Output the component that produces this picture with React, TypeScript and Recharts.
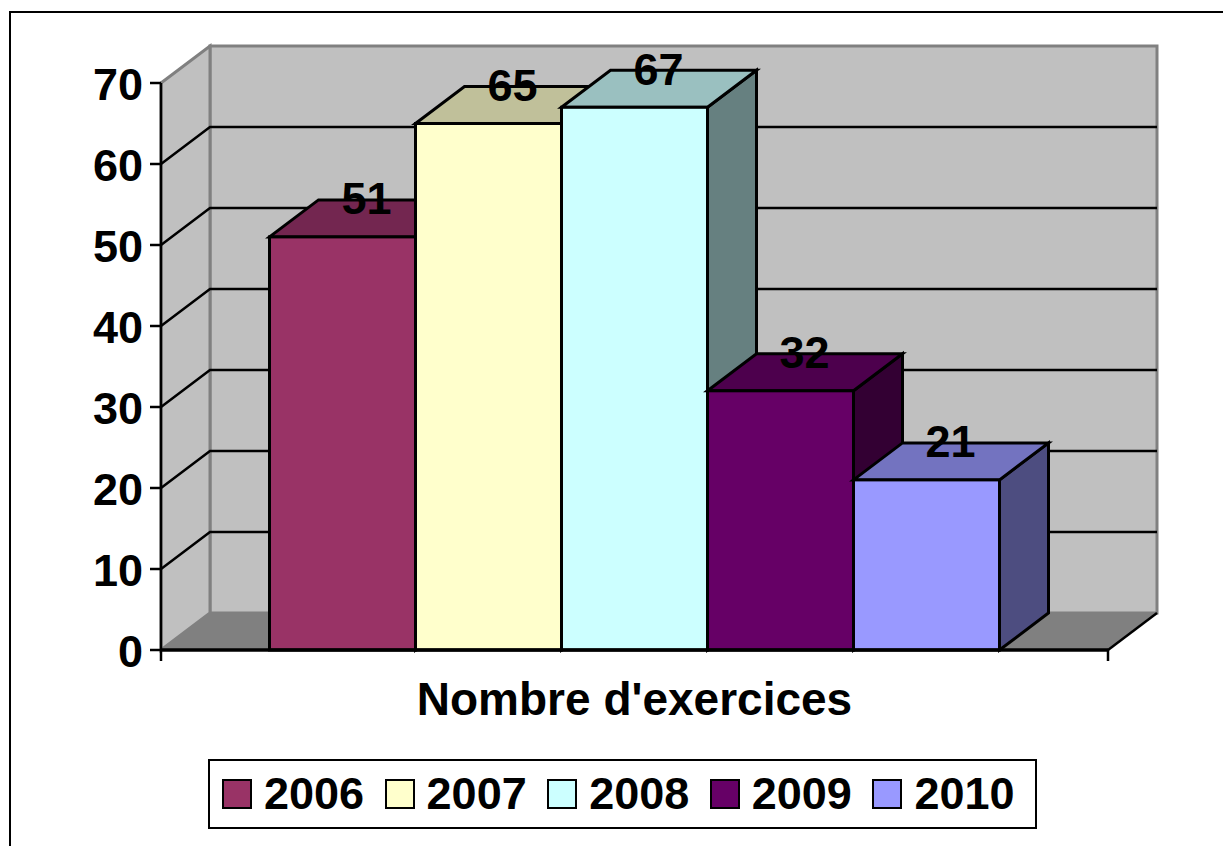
import React from "react";
import { BarChart, Bar, XAxis, YAxis, CartesianGrid, Legend, LabelList } from "recharts";

const categories = ["Nombre d'exercices"];
const seriesNames = ["2006", "2007", "2008", "2009", "2010"];
const seriesValues = [51, 65, 67, 32, 21];
const seriesColors = ["#993366", "#FFFFCC", "#CCFFFF", "#660066", "#9999FF"];
const topColors = ["#732650", "#C0C09A", "#9AC0C0", "#4D004D", "#7373C0"];
const sideColors = ["#4D1A33", "#808066", "#668080", "#330033", "#4D4D80"];
const yTicks = [0, 10, 20, 30, 40, 50, 60, 70];

const row: Record<string, string | number> = { name: categories[0] };
seriesNames.forEach((n, i) => { row[n] = seriesValues[i]; });
const data = [row];

const DX = 49;
const DY = 37;
const FONT = "'Liberation Sans', Arial, sans-serif";
const FS = 45;
const SW = 3;

const Bar3D = (i: number) => (p: any) => {
  const { x, y, width: w, height: h } = p;
  return (
    <g stroke="#000" strokeWidth={SW} strokeLinejoin="miter">
      <polygon fill={sideColors[i]} points={`${x + w},${y} ${x + w + DX},${y - DY} ${x + w + DX},${y + h - DY} ${x + w},${y + h}`} />
      <polygon fill={topColors[i]} points={`${x},${y} ${x + DX},${y - DY} ${x + w + DX},${y - DY} ${x + w},${y}`} />
      <rect x={x} y={y} width={w} height={h} fill={seriesColors[i]} />
    </g>
  );
};

const WallLine = (p: any) => {
  const { x, y, width: w, height: h, index } = p;
  if (index !== 0) return <g key={p.key} />;
  const b = y + h;
  return (
    <g key={p.key}>
      <polygon fill="#C0C0C0" stroke="#808080" strokeWidth={3} points={`${x + DX},${y - DY} ${x + w + DX},${y - DY} ${x + w + DX},${b - DY} ${x + DX},${b - DY}`} />
      <polygon fill="#C0C0C0" stroke="#808080" strokeWidth={3} points={`${x},${y} ${x + DX},${y - DY} ${x + DX},${b - DY} ${x},${b}`} />
      <polygon fill="#808080" stroke="#808080" strokeWidth={1} points={`${x},${b} ${x + DX},${b - DY} ${x + w + DX},${b - DY} ${x + w},${b}`} />
      <line x1={x + w} y1={b} x2={x + w + DX} y2={b - DY} stroke="#000" strokeWidth={2.5} />
      <line x1={x} y1={b} x2={x} y2={b + 11} stroke="#000" strokeWidth={2.5} />
      <line x1={x + w} y1={b} x2={x + w} y2={b + 11} stroke="#000" strokeWidth={2.5} />
    </g>
  );
};

const GridLine = (p: any) => {
  const { x1, x2, y1 } = p;
  const bottom = p.y + p.height;
  if (Math.abs(y1 - p.y) < 1 || Math.abs(y1 - bottom) < 1) return <g key={p.key} />;
  return (
    <polyline key={p.key} fill="none" stroke="#000" strokeWidth={2.5} points={`${x1},${y1} ${x1 + DX},${y1 - DY} ${x2 + DX},${y1 - DY}`} />
  );
};

const CategoryTick = (p: any) => (
  <text x={p.x} y={p.y + 41} textAnchor="middle" dominantBaseline="central" fontFamily={FONT} fontWeight="bold" fontSize={46} fill="#000">
    {p.payload.value}
  </text>
);

const ValueLabel = (p: any) => (
  <text x={p.x + p.width / 2 + 24} y={p.y - 38} textAnchor="middle" dominantBaseline="central" fontFamily={FONT} fontWeight="bold" fontSize={FS} fill="#000">
    {p.value}
  </text>
);

const LegendBox = (p: any) => (
  <div style={{ display: "flex", alignItems: "center", height: "100%", boxSizing: "border-box", border: "2px solid #000", paddingLeft: 12, background: "#fff" }}>
    {p.payload.map((e: any) => (
      <div key={e.value} style={{ display: "flex", alignItems: "center", width: 163 }}>
        <span style={{ display: "block", width: 26, height: 26, border: "2.5px solid #000", background: e.color, marginRight: 12 }} />
        <span style={{ fontFamily: FONT, fontWeight: "bold", fontSize: FS, lineHeight: "50px", color: "#000" }}>{e.value}</span>
      </div>
    ))}
  </div>
);

export default function App() {
  return (
    <div style={{ position: "absolute", left: 0, top: 0, width: 1223, height: 846, overflow: "hidden", background: "#fff" }}>
      <div style={{ position: "absolute", left: 9, top: 11, width: 1300, height: 1000, borderLeft: "2px solid #000", borderTop: "2px solid #000" }} />
      <div style={{ position: "absolute", left: 0, top: 0 }}>
        <BarChart
          width={1223}
          height={846}
          data={data}
          margin={{ top: 83, right: 115, bottom: 0, left: 0 }}
          barCategoryGap={108.5}
          barGap={0}
          style={{ overflow: "visible" }}
        >
          <CartesianGrid vertical={false} horizontal={WallLine} />
          <CartesianGrid vertical={false} horizontal={GridLine} />
          <XAxis dataKey="name" height={126} tickLine={false} tick={CategoryTick} axisLine={{ stroke: "#000", strokeWidth: 3.5 }} interval={0} />
          <YAxis
            width={161}
            domain={[0, 70]}
            ticks={yTicks}
            interval={0}
            tickSize={11}
            tickMargin={7}
            tickLine={{ stroke: "#000", strokeWidth: 2.5 }}
            axisLine={{ stroke: "#000", strokeWidth: 2.5 }}
            tick={{ fontFamily: FONT, fontWeight: "bold", fontSize: FS, fill: "#000", dy: 1 }}
          />
          <Legend
            content={LegendBox}
            wrapperStyle={{ position: "absolute", left: 208, top: 759, width: 829, height: 70, bottom: "auto" }}
          />
          {seriesNames.map((n, i) => (
            <Bar key={n} dataKey={n} fill={seriesColors[i]} isAnimationActive={false} shape={Bar3D(i)}>
              <LabelList dataKey={n} content={ValueLabel} />
            </Bar>
          ))}
        </BarChart>
      </div>
    </div>
  );
}
